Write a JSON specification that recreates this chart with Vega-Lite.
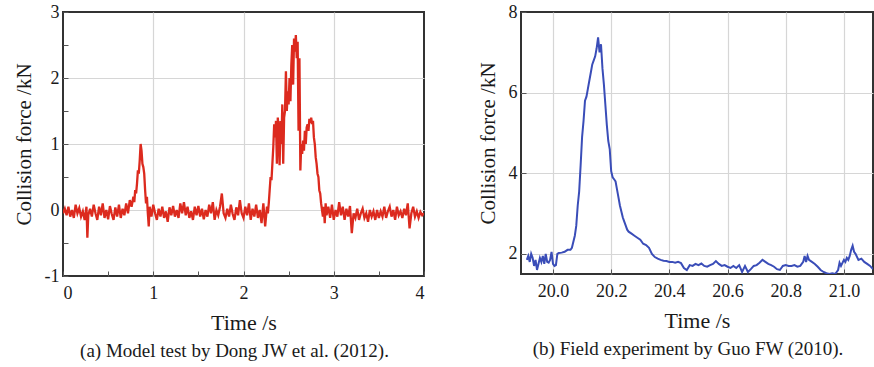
{
  "$schema": "https://vega.github.io/schema/vega-lite/v6.json",
  "padding": {"left": 12, "top": 2, "right": 1, "bottom": 2},
  "spacing": 50,
  "datasets": {
    "a": [
      {"t":0.00,"f":-0.05},{"t":0.02,"f":0.02},{"t":0.04,"f":-0.08},{"t":0.06,"f":0.05},{"t":0.08,"f":-0.1},{"t":0.10,"f":0.0},{"t":0.12,"f":-0.12},{"t":0.14,"f":0.08},{"t":0.16,"f":-0.05},{"t":0.18,"f":0.03},{"t":0.20,"f":-0.1},{"t":0.22,"f":-0.02},{"t":0.24,"f":-0.15},{"t":0.26,"f":0.05},{"t":0.27,"f":-0.42},{"t":0.28,"f":-0.08},{"t":0.30,"f":0.02},{"t":0.32,"f":-0.1},{"t":0.34,"f":0.08},{"t":0.36,"f":-0.05},{"t":0.38,"f":-0.15},{"t":0.40,"f":0.05},{"t":0.42,"f":-0.08},{"t":0.44,"f":0.1},{"t":0.46,"f":-0.12},{"t":0.48,"f":0.0},{"t":0.50,"f":-0.14},{"t":0.52,"f":0.06},{"t":0.54,"f":-0.06},{"t":0.56,"f":-0.15},{"t":0.58,"f":0.04},{"t":0.60,"f":-0.1},{"t":0.62,"f":0.08},{"t":0.64,"f":-0.12},{"t":0.66,"f":0.02},{"t":0.68,"f":-0.08},{"t":0.70,"f":0.1},{"t":0.72,"f":-0.05},{"t":0.74,"f":0.15},{"t":0.76,"f":0.05},{"t":0.78,"f":0.2},{"t":0.79,"f":0.12},{"t":0.80,"f":0.3},{"t":0.81,"f":0.25},{"t":0.82,"f":0.4},{"t":0.83,"f":0.6},{"t":0.84,"f":0.55},{"t":0.85,"f":0.75},{"t":0.86,"f":1.0},{"t":0.87,"f":0.9},{"t":0.88,"f":0.7},{"t":0.89,"f":0.65},{"t":0.90,"f":0.55},{"t":0.91,"f":0.3},{"t":0.92,"f":0.1},{"t":0.93,"f":0.2},{"t":0.94,"f":-0.05},{"t":0.95,"f":-0.25},{"t":0.96,"f":0.05},{"t":0.98,"f":-0.1},
      {"t":1.00,"f":0.08},{"t":1.02,"f":-0.05},{"t":1.04,"f":-0.15},{"t":1.06,"f":0.02},{"t":1.08,"f":-0.1},{"t":1.10,"f":0.05},{"t":1.12,"f":-0.12},{"t":1.14,"f":-0.02},{"t":1.16,"f":-0.18},{"t":1.18,"f":0.04},{"t":1.20,"f":-0.08},{"t":1.22,"f":0.06},{"t":1.24,"f":-0.1},{"t":1.26,"f":0.0},{"t":1.28,"f":-0.12},{"t":1.30,"f":0.1},{"t":1.32,"f":-0.05},{"t":1.34,"f":0.12},{"t":1.36,"f":-0.08},{"t":1.38,"f":0.05},{"t":1.40,"f":-0.12},{"t":1.42,"f":-0.02},{"t":1.44,"f":-0.15},{"t":1.46,"f":0.05},{"t":1.48,"f":-0.08},{"t":1.50,"f":0.06},{"t":1.52,"f":-0.1},{"t":1.54,"f":0.02},{"t":1.56,"f":-0.14},{"t":1.58,"f":0.0},{"t":1.60,"f":-0.1},{"t":1.62,"f":0.08},{"t":1.64,"f":-0.05},{"t":1.66,"f":0.12},{"t":1.68,"f":-0.15},{"t":1.70,"f":0.0},{"t":1.72,"f":-0.08},{"t":1.74,"f":0.05},{"t":1.76,"f":0.25},{"t":1.78,"f":-0.05},{"t":1.80,"f":-0.12},{"t":1.82,"f":0.02},{"t":1.84,"f":-0.1},{"t":1.86,"f":0.08},{"t":1.88,"f":-0.06},{"t":1.90,"f":-0.15},{"t":1.92,"f":0.04},{"t":1.94,"f":-0.08},{"t":1.96,"f":0.15},{"t":1.98,"f":-0.05},{"t":2.00,"f":-0.12},{"t":2.02,"f":0.05},{"t":2.04,"f":-0.08},{"t":2.06,"f":0.1},{"t":2.08,"f":-0.15},{"t":2.10,"f":0.02},{"t":2.12,"f":-0.1},{"t":2.14,"f":0.08},{"t":2.16,"f":-0.12},{"t":2.18,"f":0.0},{"t":2.20,"f":-0.2},{"t":2.22,"f":0.1},{"t":2.24,"f":-0.25},{"t":2.26,"f":0.05},
      {"t":2.27,"f":-0.05},{"t":2.28,"f":0.1},{"t":2.29,"f":0.3},{"t":2.30,"f":0.5},{"t":2.31,"f":0.45},{"t":2.32,"f":0.7},{"t":2.33,"f":0.95},{"t":2.34,"f":1.3},{"t":2.35,"f":1.1},{"t":2.36,"f":1.35},{"t":2.37,"f":0.7},{"t":2.38,"f":1.4},{"t":2.39,"f":1.2},{"t":2.40,"f":0.68},{"t":2.41,"f":1.35},{"t":2.42,"f":1.0},{"t":2.43,"f":1.6},{"t":2.44,"f":0.7},{"t":2.45,"f":1.4},{"t":2.46,"f":1.5},{"t":2.47,"f":2.1},{"t":2.48,"f":1.5},{"t":2.49,"f":1.8},{"t":2.50,"f":1.6},{"t":2.51,"f":2.0},{"t":2.52,"f":1.65},{"t":2.53,"f":2.2},{"t":2.54,"f":2.5},{"t":2.55,"f":1.9},{"t":2.56,"f":2.6},{"t":2.57,"f":2.4},{"t":2.58,"f":2.65},{"t":2.59,"f":2.3},{"t":2.60,"f":2.55},{"t":2.61,"f":1.2},{"t":2.62,"f":2.3},{"t":2.63,"f":0.6},{"t":2.64,"f":1.0},{"t":2.65,"f":0.85},{"t":2.66,"f":1.05},{"t":2.67,"f":0.9},{"t":2.68,"f":1.2},{"t":2.69,"f":1.0},{"t":2.70,"f":1.25},{"t":2.71,"f":1.3},{"t":2.72,"f":1.2},{"t":2.73,"f":1.38},{"t":2.74,"f":1.32},{"t":2.75,"f":1.4},{"t":2.76,"f":1.3},{"t":2.77,"f":1.35},{"t":2.78,"f":1.1},{"t":2.79,"f":1.0},{"t":2.80,"f":0.8},{"t":2.81,"f":0.7},{"t":2.82,"f":0.55},{"t":2.83,"f":0.5},{"t":2.84,"f":0.3},{"t":2.85,"f":0.25},{"t":2.86,"f":0.1},{"t":2.87,"f":0.0},{"t":2.88,"f":-0.1},{"t":2.89,"f":0.05},{"t":2.90,"f":-0.2},{"t":2.91,"f":0.1},{"t":2.92,"f":-0.08},
      {"t":2.94,"f":0.05},{"t":2.96,"f":-0.12},{"t":2.98,"f":0.08},{"t":3.00,"f":-0.15},{"t":3.02,"f":0.0},{"t":3.04,"f":-0.1},{"t":3.06,"f":0.12},{"t":3.08,"f":-0.08},{"t":3.10,"f":0.05},{"t":3.12,"f":-0.15},{"t":3.14,"f":0.02},{"t":3.16,"f":-0.1},{"t":3.18,"f":0.06},{"t":3.20,"f":-0.35},{"t":3.22,"f":-0.05},{"t":3.24,"f":-0.12},{"t":3.26,"f":0.02},{"t":3.28,"f":-0.15},{"t":3.30,"f":-0.05},{"t":3.32,"f":0.02},{"t":3.34,"f":-0.12},{"t":3.36,"f":-0.05},{"t":3.38,"f":-0.18},{"t":3.40,"f":0.0},{"t":3.42,"f":-0.1},{"t":3.44,"f":-0.02},{"t":3.46,"f":-0.15},{"t":3.48,"f":0.0},{"t":3.50,"f":-0.12},{"t":3.52,"f":-0.02},{"t":3.54,"f":-0.1},{"t":3.56,"f":0.05},{"t":3.58,"f":-0.12},{"t":3.60,"f":-0.02},{"t":3.62,"f":0.05},{"t":3.64,"f":-0.1},{"t":3.66,"f":0.0},{"t":3.68,"f":-0.15},{"t":3.70,"f":0.05},{"t":3.72,"f":-0.08},{"t":3.74,"f":-0.02},{"t":3.76,"f":-0.12},{"t":3.78,"f":0.02},{"t":3.80,"f":-0.08},{"t":3.82,"f":0.1},{"t":3.84,"f":-0.28},{"t":3.86,"f":-0.05},{"t":3.88,"f":0.05},{"t":3.90,"f":-0.1},{"t":3.92,"f":-0.02},{"t":3.94,"f":-0.12},{"t":3.96,"f":-0.03},{"t":3.98,"f":-0.08},{"t":4.00,"f":-0.05}
    ],
    "b": [
      {"t":19.91,"f":1.85},{"t":19.915,"f":1.95},{"t":19.92,"f":1.8},{"t":19.925,"f":2.0},{"t":19.93,"f":1.9},{"t":19.935,"f":1.7},{"t":19.94,"f":1.85},{"t":19.945,"f":1.6},{"t":19.95,"f":1.75},{"t":19.955,"f":1.9},{"t":19.96,"f":1.8},{"t":19.965,"f":1.95},{"t":19.97,"f":1.75},{"t":19.975,"f":2.0},{"t":19.98,"f":1.8},{"t":19.985,"f":1.78},{"t":19.99,"f":1.85},{"t":19.995,"f":2.05},{"t":20.0,"f":1.75},{"t":20.005,"f":1.7},{"t":20.01,"f":1.72},{"t":20.015,"f":2.0},{"t":20.02,"f":2.02},{"t":20.03,"f":2.03},{"t":20.04,"f":2.05},{"t":20.05,"f":2.1},{"t":20.06,"f":2.1},{"t":20.065,"f":2.15},{"t":20.07,"f":2.3},{"t":20.075,"f":2.45},{"t":20.08,"f":2.7},{"t":20.085,"f":3.2},{"t":20.09,"f":3.55},{"t":20.095,"f":4.2},{"t":20.10,"f":4.9},{"t":20.105,"f":5.3},{"t":20.11,"f":5.8},{"t":20.115,"f":5.9},{"t":20.12,"f":6.1},{"t":20.125,"f":6.3},{"t":20.13,"f":6.5},{"t":20.135,"f":6.7},{"t":20.14,"f":6.8},{"t":20.145,"f":6.9},{"t":20.15,"f":7.1},{"t":20.155,"f":7.37},{"t":20.16,"f":7.0},{"t":20.165,"f":7.2},{"t":20.17,"f":6.6},{"t":20.175,"f":6.2},{"t":20.18,"f":5.7},{"t":20.185,"f":5.2},{"t":20.19,"f":4.8},{"t":20.195,"f":4.6},{"t":20.2,"f":4.05},{"t":20.205,"f":3.9},{"t":20.21,"f":3.85},{"t":20.215,"f":3.8},{"t":20.22,"f":3.6},{"t":20.225,"f":3.4},{"t":20.23,"f":3.2},{"t":20.235,"f":3.05},{"t":20.24,"f":2.9},{"t":20.245,"f":2.8},{"t":20.25,"f":2.7},{"t":20.255,"f":2.6},{"t":20.26,"f":2.55},{"t":20.27,"f":2.5},{"t":20.28,"f":2.45},{"t":20.29,"f":2.4},{"t":20.30,"f":2.35},{"t":20.31,"f":2.25},{"t":20.32,"f":2.22},{"t":20.33,"f":2.15},{"t":20.34,"f":2.0},{"t":20.35,"f":1.92},{"t":20.36,"f":1.88},{"t":20.37,"f":1.85},{"t":20.38,"f":1.83},{"t":20.39,"f":1.82},{"t":20.40,"f":1.8},{"t":20.41,"f":1.8},{"t":20.42,"f":1.78},{"t":20.43,"f":1.8},{"t":20.44,"f":1.77},{"t":20.45,"f":1.65},{"t":20.46,"f":1.6},{"t":20.47,"f":1.72},{"t":20.48,"f":1.7},{"t":20.49,"f":1.75},{"t":20.50,"f":1.72},{"t":20.51,"f":1.76},{"t":20.52,"f":1.7},{"t":20.53,"f":1.68},{"t":20.54,"f":1.72},{"t":20.55,"f":1.75},{"t":20.56,"f":1.82},{"t":20.57,"f":1.75},{"t":20.58,"f":1.7},{"t":20.59,"f":1.72},{"t":20.60,"f":1.68},{"t":20.61,"f":1.65},{"t":20.62,"f":1.7},{"t":20.63,"f":1.65},{"t":20.64,"f":1.72},{"t":20.65,"f":1.55},{"t":20.66,"f":1.7},{"t":20.67,"f":1.55},{"t":20.68,"f":1.62},{"t":20.69,"f":1.7},{"t":20.70,"f":1.72},{"t":20.71,"f":1.78},{"t":20.72,"f":1.85},{"t":20.73,"f":1.8},{"t":20.74,"f":1.75},{"t":20.75,"f":1.72},{"t":20.76,"f":1.68},{"t":20.77,"f":1.62},{"t":20.78,"f":1.6},{"t":20.79,"f":1.7},{"t":20.80,"f":1.72},{"t":20.81,"f":1.7},{"t":20.82,"f":1.7},{"t":20.83,"f":1.72},{"t":20.84,"f":1.68},{"t":20.85,"f":1.7},{"t":20.86,"f":1.8},{"t":20.865,"f":1.95},{"t":20.87,"f":1.8},{"t":20.875,"f":1.95},{"t":20.88,"f":1.85},{"t":20.89,"f":1.8},{"t":20.90,"f":1.75},{"t":20.91,"f":1.68},{"t":20.92,"f":1.6},{"t":20.93,"f":1.55},{"t":20.94,"f":1.52},{"t":20.95,"f":1.5},{"t":20.96,"f":1.52},{"t":20.97,"f":1.5},{"t":20.98,"f":1.6},{"t":20.985,"f":1.78},{"t":20.99,"f":1.7},{"t":21.00,"f":1.85},{"t":21.005,"f":1.8},{"t":21.01,"f":1.9},{"t":21.015,"f":1.85},{"t":21.02,"f":1.95},{"t":21.025,"f":2.1},{"t":21.03,"f":2.2},{"t":21.035,"f":2.05},{"t":21.04,"f":2.0},{"t":21.05,"f":1.85},{"t":21.06,"f":1.88},{"t":21.07,"f":1.8},{"t":21.08,"f":1.75},{"t":21.09,"f":1.7},{"t":21.10,"f":1.62}
    ]
  },
  "hconcat": [
    {
      "width": 361,
      "height": 264,
      "data": {"name": "a"},
      "mark": {"type": "line", "color": "#dc2a1e", "strokeWidth": 2.3, "clip": true},
      "encoding": {
        "x": {
          "field": "t", "type": "quantitative",
          "scale": {"domain": [0, 4], "nice": false, "zero": false},
          "axis": {
            "title": "Time /s",
            "values": [0, 0.5, 1, 1.5, 2, 2.5, 3, 3.5, 4],
            "labelExpr": "datum.value % 1 === 0 ? '' + datum.value : ''",
            "gridOpacity": {"condition": {"test": "datum.value % 1 !== 0 || datum.value === 0 || datum.value === 4", "value": 0}, "value": 1}
          }
        },
        "y": {
          "field": "f", "type": "quantitative",
          "scale": {"domain": [-1, 3], "nice": false, "zero": false},
          "axis": {
            "title": "Collision force /kN",
            "values": [-1, -0.5, 0, 0.5, 1, 1.5, 2, 2.5, 3],
            "labelExpr": "datum.value % 1 === 0 ? '' + datum.value : ''",
            "gridOpacity": {"condition": {"test": "datum.value % 1 !== 0 || datum.value === -1 || datum.value === 3", "value": 0}, "value": 1}
          }
        }
      },
      "title": {"text": "(a) Model test by Dong JW et al. (2012).", "orient": "bottom", "frame": "group", "anchor": "middle", "dx": -9}
    },
    {
      "width": 352,
      "height": 262,
      "data": {"name": "b"},
      "mark": {"type": "line", "color": "#3a4db8", "strokeWidth": 2, "clip": true},
      "encoding": {
        "x": {
          "field": "t", "type": "quantitative",
          "scale": {"domain": [19.89, 21.1], "nice": false, "zero": false},
          "axis": {
            "title": "Time /s",
            "values": [20.0, 20.2, 20.4, 20.6, 20.8, 21.0],
            "format": ".1f"
          }
        },
        "y": {
          "field": "f", "type": "quantitative",
          "scale": {"domain": [1.5, 8], "nice": false, "zero": false},
          "axis": {
            "title": "Collision force /kN",
            "values": [2, 4, 6, 8],
            "format": "d",
            "gridOpacity": {"condition": {"test": "datum.value === 8", "value": 0}, "value": 1}
          }
        }
      },
      "title": {"text": "(b) Field experiment by Guo FW (2010).", "orient": "bottom", "frame": "group", "anchor": "middle", "dx": -9}
    }
  ],
  "config": {
    "font": "Liberation Serif",
    "view": {"stroke": "#333333", "strokeWidth": 2},
    "axis": {
      "labelFont": "Liberation Serif",
      "titleFont": "Liberation Serif",
      "labelFontSize": 18,
      "titleFontSize": 21,
      "titleFontWeight": "normal",
      "labelColor": "#1a1a1a",
      "titleColor": "#1a1a1a",
      "gridColor": "#d6d6d6",
      "gridWidth": 1.2,
      "domain": false,
      "tickColor": "#555555",
      "tickSize": -5,
      "labelPadding": 9,
      "titlePadding": 10
    },
    "axisX": {"labelPadding": 13, "titleFontSize": 22},
    "title": {
      "font": "Liberation Serif",
      "fontSize": 19,
      "fontWeight": "normal",
      "color": "#1a1a1a",
      "offset": 9
    }
  }
}
